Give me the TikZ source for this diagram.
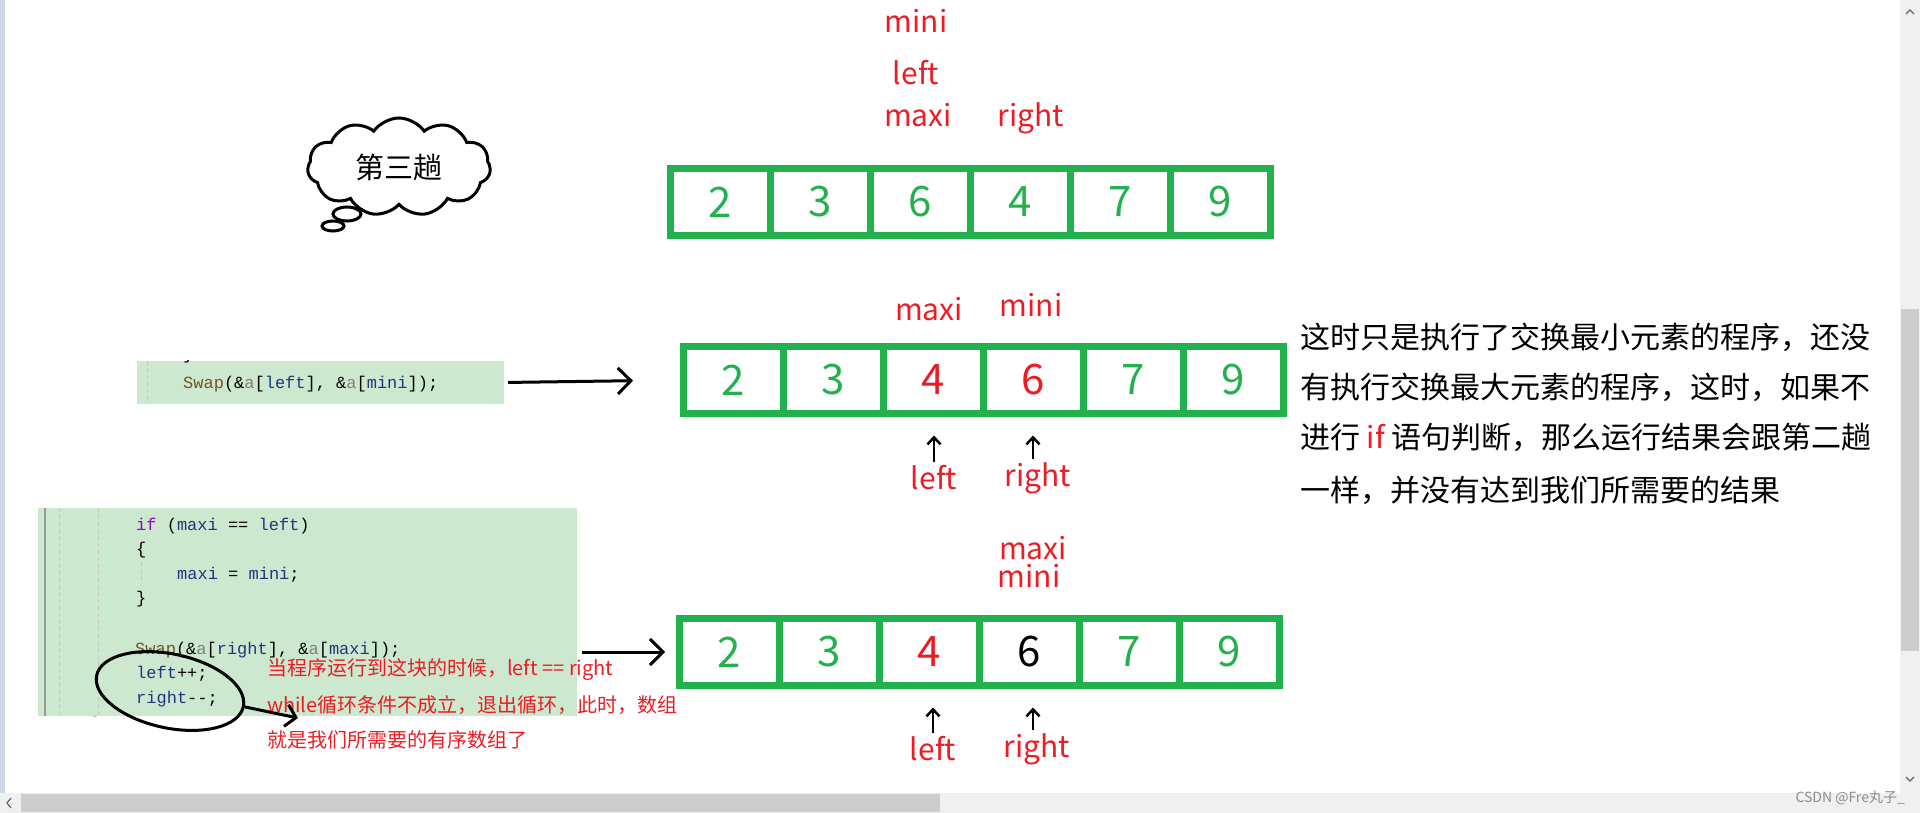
\documentclass[tikz,border=0pt]{standalone}
\usepackage{fontspec}
\setmainfont{Noto Sans CJK SC}
\newfontfamily\codefont{Liberation Mono}
\usepackage{tikz}
\usepackage{xcolor}
\usetikzlibrary{arrows.meta,positioning,shapes.geometric,shapes.symbols}
\definecolor{ssgreen}{RGB}{34,177,76}
\definecolor{ssred}{RGB}{237,28,36}
\definecolor{sscode}{RGB}{204,232,207}
\definecolor{ssnavy}{RGB}{31,55,127}
\definecolor{ssbrown}{RGB}{116,83,31}
\definecolor{sspurple}{RGB}{143,8,196}
\definecolor{ssparam}{RGB}{128,128,128}
\definecolor{ssbar}{RGB}{240,240,240}
\definecolor{ssthumb}{RGB}{205,205,205}
\definecolor{ssedge}{RGB}{206,214,230}
\tikzset{
  sscell/.style={draw=ssgreen, line width=7pt, minimum width=100pt, minimum height=67pt, inner sep=0pt, outer sep=0pt, font=\fontsize{42}{42}\selectfont},
  sslabel/.style={text=ssred, inner sep=0pt, font=\fontsize{30}{36}\selectfont},
  sscodebox/.style={fill=sscode, inner sep=0pt},
  sscodeline/.style={anchor=west, inner sep=0pt, font=\codefont\fontsize{17}{20}\selectfont},
  ssnote/.style={anchor=west, inner sep=0pt, text=ssred, font=\fontsize{20}{24}\selectfont},
  sstext/.style={anchor=west, inner sep=0pt, font=\fontsize{30}{36}\selectfont},
  ssarr/.style={-{Straight Barb[length=13pt,width=26pt]}, line width=3pt},
  ssptr/.style={-{Straight Barb[length=7pt,width=13pt]}, line width=2.5pt, shorten <=3pt, shorten >=22pt},
  ssguide/.style={draw=black!22, line width=1pt, dash pattern=on 4pt off 3pt},
  sscloud/.style={cloud, draw, line width=3pt, cloud puffs=11, cloud puff arc=110, aspect=1.9, minimum width=183pt, minimum height=98pt, inner sep=0pt, font=\fontsize{29}{32}\selectfont}
}

\begin{document}
\begin{tikzpicture}[x=1pt, y=-1pt]
  \useasboundingbox (0,0) rectangle (1920,813);
  % window edges and scroll bars
  \fill[ssedge] (0,0) rectangle (5,793);
  \fill[ssbar] (0,793) rectangle (1920,813);
  \fill[ssthumb] (21,794) rectangle (940,812);
  \fill[ssbar] (1900,0) rectangle (1920,793);
  \fill[ssthumb] (1901,309) rectangle (1919,651);
  \draw[black!60, line width=1.2pt] (11,798) -- (7,803) -- (11,808);
  \draw[black!60, line width=1.2pt] (1906,14) -- (1910,10) -- (1914,14);
  \draw[black!60, line width=1.2pt] (1906,777) -- (1910,781) -- (1914,777);
  \node[text=black!45, inner sep=0pt, anchor=east, font=\fontsize{14}{14}\selectfont] (mark) at (1905,798) {CSDN @Fre丸子\_};

  % thought cloud
  \node[sscloud] (pass3) at (399,167) {第三趟};
  \draw[line width=3pt] (347,214) ellipse [x radius=14, y radius=7];
  \draw[line width=3pt] (333,226) ellipse [x radius=11, y radius=5];

  % code after the first swap
  \node[sscodebox, minimum width=367pt, minimum height=43pt] (code1) at (320.5,382.5) {};
  \begin{scope}
    \clip (code1.south west) rectangle (code1.north east);
    \draw[ssguide] (147,361) -- (147,404);
    \node[sscodeline] (brace0) at (183,355) {\}};
  \end{scope}
  \node[sscodeline] (swap1) at (183,384) {\textcolor{ssbrown}{Swap}(\&\textcolor{ssparam}{a}[\textcolor{ssnavy}{left}], \&\textcolor{ssparam}{a}[\textcolor{ssnavy}{mini}]);};

  % code of the if check
  \node[sscodebox, minimum width=539pt, minimum height=208pt] (code2) at (307.5,612) {};
  \begin{scope}
    \clip (code2.south west) rectangle (code2.north east);
    \draw[black!40, line width=2pt] (45,508) -- (45,716);
    \draw[ssguide] (59,508) -- (59,716);
    \draw[ssguide] (98,508) -- (98,716);
    \draw[ssguide] (141,562) -- (141,590);
    \node[sscodeline] (brace4) at (92,725) {\}};
  \end{scope}
  \node[sscodeline] (ifline) at (136,526) {\textcolor{sspurple}{if} (\textcolor{ssnavy}{maxi} == \textcolor{ssnavy}{left})};
  \node[sscodeline] (brace1) at (136,550) {\{};
  \node[sscodeline] (setline) at (177,575) {\textcolor{ssnavy}{maxi} = \textcolor{ssnavy}{mini};};
  \node[sscodeline] (brace2) at (136,599) {\}};
  \node[sscodeline] (swap2) at (135,650) {\textcolor{ssbrown}{Swap}(\&\textcolor{ssparam}{a}[\textcolor{ssnavy}{right}], \&\textcolor{ssparam}{a}[\textcolor{ssnavy}{maxi}]);};
  \node[sscodeline] (incline) at (136,674) {\textcolor{ssnavy}{left}++;};
  \node[sscodeline] (decline) at (136,699) {\textcolor{ssnavy}{right}-{}-;};

  \node[ssnote] (note1) at (267,670) {当程序运行到这块的时候，left == right};
  \node[ssnote] (note2) at (267,705) {while循环条件不成立，退出循环，此时，数组};
  \node[ssnote] (note3) at (267,740) {就是我们所需要的有序数组了};

  \node[draw, ellipse, line width=3pt, minimum width=150pt, minimum height=74pt, rotate=-12, inner sep=0pt] (loopmark) at (170,691) {};
  \coordinate (loopend) at (298,718);
  \draw[-{Straight Barb[length=10pt,width=22pt]}, line width=3pt] (loopmark.east) -- (loopend);

  % array before the swap
  \node[sscell, anchor=west, text=ssgreen] (a1c1) at (670,202) {2};
  \node[sscell, right=0pt of a1c1, text=ssgreen] (a1c2) {3};
  \node[sscell, right=0pt of a1c2, text=ssgreen] (a1c3) {6};
  \node[sscell, right=0pt of a1c3, text=ssgreen] (a1c4) {4};
  \node[sscell, right=0pt of a1c4, text=ssgreen] (a1c5) {7};
  \node[sscell, right=0pt of a1c5, text=ssgreen] (a1c6) {9};
  \node[sslabel] (t1mini) at (916,21) {mini};
  \node[sslabel] (t1left) at (916,73) {left};
  \node[sslabel] (t1maxi) at (918,115) {maxi};
  \node[sslabel] (t1right) at (1031,118) {right};

  % array after swapping the minimum
  \node[sscell, anchor=west, text=ssgreen] (a2c1) at (683,380) {2};
  \node[sscell, right=0pt of a2c1, text=ssgreen] (a2c2) {3};
  \node[sscell, right=0pt of a2c2, text=ssred] (a2c3) {4};
  \node[sscell, right=0pt of a2c3, text=ssred] (a2c4) {6};
  \node[sscell, right=0pt of a2c4, text=ssgreen] (a2c5) {7};
  \node[sscell, right=0pt of a2c5, text=ssgreen] (a2c6) {9};
  \node[sslabel] (t2maxi) at (929,309) {maxi};
  \node[sslabel] (t2mini) at (1031,305) {mini};
  \node[sslabel] (b2left) at (934,478) {left};
  \node[sslabel] (b2right) at (1038,478) {right};
  \draw[ssptr] (b2left.north) -- (b2left.north |- a2c3.south);
  \draw[ssptr] ([xshift=-5pt]b2right.north) -- ([xshift=-5pt]b2right.north |- a2c4.south);
  \draw[ssarr, shorten <=4pt, shorten >=50pt] (code1.east) -- (a2c1.west);

  % array after the if check
  \node[sscell, anchor=west, text=ssgreen] (a3c1) at (679,652) {2};
  \node[sscell, right=0pt of a3c1, text=ssgreen] (a3c2) {3};
  \node[sscell, right=0pt of a3c2, text=ssred] (a3c3) {4};
  \node[sscell, right=0pt of a3c3, text=black] (a3c4) {6};
  \node[sscell, right=0pt of a3c4, text=ssgreen] (a3c5) {7};
  \node[sscell, right=0pt of a3c5, text=ssgreen] (a3c6) {9};
  \node[sslabel] (t3maxi) at (1033,548) {maxi};
  \node[sslabel] (t3mini) at (1029,576) {mini};
  \node[sslabel] (b3left) at (933,749) {left};
  \node[sslabel] (b3right) at (1037,749) {right};
  \draw[ssptr] (b3left.north) -- (b3left.north |- a3c3.south);
  \draw[ssptr] ([xshift=-4pt]b3right.north) -- ([xshift=-4pt]b3right.north |- a3c4.south);
  \draw[ssarr, shorten <=5pt, shorten >=14pt] (code2.east |- a3c1.west) -- (a3c1.west);

  % explanation
  \node[sstext] (why1) at (1300,337) {这时只是执行了交换最小元素的程序，还没};
  \node[sstext] (why2) at (1300,387) {有执行交换最大元素的程序，这时，如果不};
  \node[sstext] (why3) at (1300,437) {进行 \textcolor{ssred}{if} 语句判断，那么运行结果会跟第二趟};
  \node[sstext] (why4) at (1300,490) {一样，并没有达到我们所需要的结果};
\end{tikzpicture}
\end{document}
